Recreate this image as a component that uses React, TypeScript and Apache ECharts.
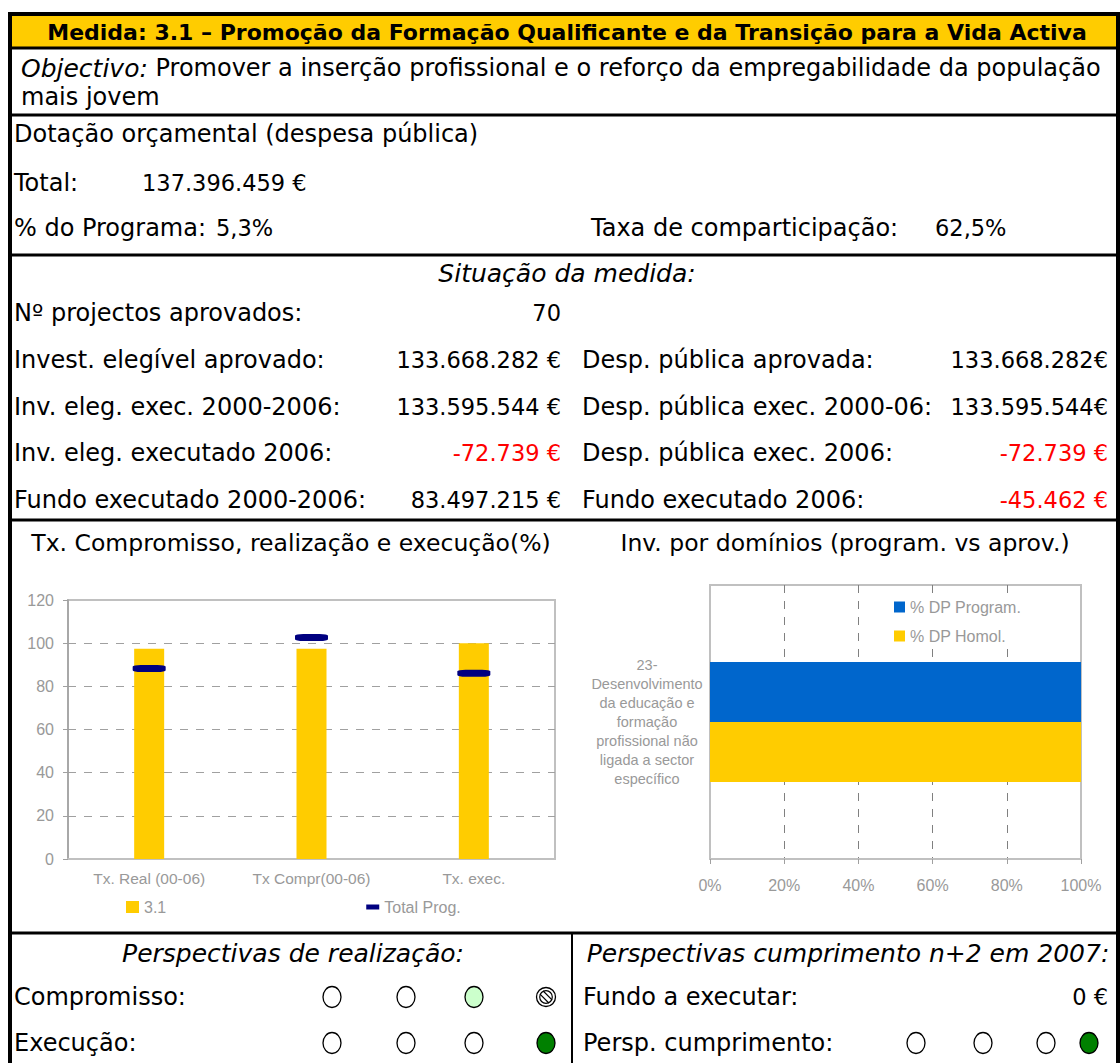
import React, { useEffect, useRef } from "react";
import * as echarts from "echarts";

// ---------- data ----------
const headerTitle = "Medida: 3.1 – Promoção da Formação Qualificante e da Transição para a Vida Activa";
const objectivoLabel = "Objectivo:";
const objectivoText1 = " Promover a inserção profissional e o reforço da empregabilidade da população";
const objectivoText2 = "mais jovem";

const dotacaoTitle = "Dotação orçamental (despesa pública)";
const totalLabel = "Total:";
const totalValue = "137.396.459 €";
const pctProgramaLabel = "% do Programa:";
const pctProgramaValue = "5,3%";
const taxaLabel = "Taxa de comparticipação:";
const taxaValue = "62,5%";

const situacaoTitle = "Situação da medida:";
const situacaoLeftLabels = [
  "Nº projectos aprovados:",
  "Invest. elegível aprovado:",
  "Inv. eleg. exec. 2000-2006:",
  "Inv. eleg. executado 2006:",
  "Fundo executado 2000-2006:",
];
const situacaoLeftValues = ["70", "133.668.282 €", "133.595.544 €", "-72.739 €", "83.497.215 €"];
const situacaoRightLabels = [
  "",
  "Desp. pública aprovada:",
  "Desp. pública exec. 2000-06:",
  "Desp. pública exec. 2006:",
  "Fundo executado 2006:",
];
const situacaoRightValues = ["", "133.668.282€", "133.595.544€", "-72.739 €", "-45.462 €"];

const chart1Title = "Tx. Compromisso, realização e execução(%)";
const chart2Title = "Inv. por domínios (program. vs aprov.)";

const txCategories = ["Tx. Real (00-06)", "Tx Compr(00-06)", "Tx. exec."];
const medidaSeriesName = "3.1";
const medidaValues = [97.4, 97.4, 100];
const totalProgSeriesName = "Total Prog.";
const totalProgValues = [88.3, 102.6, 86.1];

const dominioCategories = [
  "23-\nDesenvolvimento\nda educação e\nformação\nprofissional não\nligada a sector\nespecífico",
];
const dpProgramName = "% DP Program.";
const dpProgramValues = [100];
const dpHomolName = "% DP Homol.";
const dpHomolValues = [100];

const perspRealTitle = "Perspectivas de realização:";
const perspCumpTitle = "Perspectivas cumprimento n+2 em 2007:";
const compromissoLabel = "Compromisso:";
const execucaoLabel = "Execução:";
const fundoExecutarLabel = "Fundo a executar:";
const fundoExecutarValue = "0 €";
const perspCumpLabel = "Persp. cumprimento:";
const compromissoLights = ["empty", "empty", "light", "forbidden"];
const execucaoLights = ["empty", "empty", "empty", "green"];
const cumprimentoLights = ["empty", "empty", "empty", "green"];

// ---------- helpers ----------
const BODY = "Tahoma, 'DejaVu Sans', sans-serif";
const CHART_FONT = "Arial, 'Liberation Sans', sans-serif";
const FS = 24;
const NUM = 22.5;
const ITAL = 25;
const GREY = "#999999";

function txt(text: string, x: number, y: number, o: any = {}) {
  return {
    type: "text",
    x,
    y,
    silent: true,
    style: {
      text,
      fontFamily: BODY,
      fontSize: o.fontSize || FS,
      fontWeight: o.fontWeight || "normal",
      fontStyle: o.fontStyle || "normal",
      fill: o.fill || "#000",
      align: o.align || "left",
      verticalAlign: "middle",
      textAlign: o.align || "left",
      textVerticalAlign: "middle",
      rich: o.rich,
    },
  };
}

function hline(y: number, x1: number, x2: number, w = 3) {
  return { type: "line", silent: true, shape: { x1, y1: y, x2, y2: y }, style: { stroke: "#000", lineWidth: w } };
}
function vline(x: number, y1: number, y2: number, w = 3) {
  return { type: "line", silent: true, shape: { x1: x, y1, x2: x, y2 }, style: { stroke: "#000", lineWidth: w } };
}

function light(kind: string, cx: number, cy: number) {
  const els: any[] = [];
  const rx = 9;
  const ry = 10.5;
  if (kind === "forbidden") {
    els.push({ type: "ellipse", silent: true, shape: { cx, cy, rx: 9.5, ry: 9.5 }, style: { fill: "#fff", stroke: "#000", lineWidth: 1.3 } });
    els.push({ type: "ellipse", silent: true, shape: { cx, cy, rx: 6.3, ry: 6.3 }, style: { fill: "#fff", stroke: "#000", lineWidth: 1.2 } });
    const d = 4.4;
    const o = 1.6;
    els.push({ type: "line", silent: true, shape: { x1: cx - d + o, y1: cy - d - o, x2: cx + d + o, y2: cy + d - o }, style: { stroke: "#000", lineWidth: 1.2 } });
    els.push({ type: "line", silent: true, shape: { x1: cx - d - o, y1: cy - d + o, x2: cx + d - o, y2: cy + d + o }, style: { stroke: "#000", lineWidth: 1.2 } });
    return els;
  }
  const fill = kind === "light" ? "#CCFFCC" : kind === "green" ? "#008000" : "#ffffff";
  els.push({ type: "ellipse", silent: true, shape: { cx, cy, rx, ry }, style: { fill, stroke: "#000", lineWidth: 1.3 } });
  return els;
}

export default function App() {
  const ref = useRef<HTMLDivElement>(null);

  useEffect(() => {
    document.body.style.margin = "0";
    const chart = echarts.init(ref.current!, null, { renderer: "svg" });

    const L = 14; // left text x
    const graphics: any[] = [];

    // header
    graphics.push({ type: "rect", silent: true, shape: { x: 12, y: 16, width: 1104, height: 31 }, style: { fill: "#FFCC00" } });
    graphics.push(txt(headerTitle, 567, 32, { fontWeight: "bold", fontSize: 22, align: "center" }));

    // objectivo
    graphics.push(
      txt(`{i|${objectivoLabel}}${objectivoText1}`, 21, 68, {
        rich: { i: { fontStyle: "italic", fontFamily: BODY, fontSize: ITAL, fill: "#000" } },
      })
    );
    graphics.push(txt(objectivoText2, 21, 97));

    // dotação
    graphics.push(txt(dotacaoTitle, L, 134));
    graphics.push(txt(totalLabel, L, 183));
    graphics.push(txt(totalValue, 142, 183, { fontSize: NUM }));
    graphics.push(txt(pctProgramaLabel, L, 228));
    graphics.push(txt(pctProgramaValue, 216, 228, { fontSize: NUM }));
    graphics.push(txt(taxaLabel, 591, 228));
    graphics.push(txt(taxaValue, 935, 228, { fontSize: NUM }));

    // situação
    graphics.push(txt(situacaoTitle, 567, 273, { fontStyle: "italic", fontSize: ITAL, align: "center" }));
    situacaoLeftLabels.forEach((lab, i) => {
      const y = 313 + i * 46.8;
      graphics.push(txt(lab, L, y));
      const lv = situacaoLeftValues[i];
      graphics.push(txt(lv, 561, y, { align: "right", fontSize: NUM, fill: lv.startsWith("-") ? "#FF0000" : "#000" }));
      if (situacaoRightLabels[i]) graphics.push(txt(situacaoRightLabels[i], 582, y));
      const rv = situacaoRightValues[i];
      if (rv) graphics.push(txt(rv, 1108, y, { align: "right", fontSize: NUM, fill: rv.startsWith("-") ? "#FF0000" : "#000" }));
    });

    // chart titles
    graphics.push(txt(chart1Title, 291, 543, { align: "center", fontSize: 23.5 }));
    graphics.push(txt(chart2Title, 845, 543, { align: "center", fontSize: 23.5 }));

    // perspectivas
    graphics.push(txt(perspRealTitle, 293, 953, { align: "center", fontStyle: "italic", fontSize: ITAL }));
    graphics.push(txt(perspCumpTitle, 848, 953, { align: "center", fontStyle: "italic", fontSize: ITAL }));
    graphics.push(txt(compromissoLabel, L, 997));
    graphics.push(txt(execucaoLabel, L, 1043));
    graphics.push(txt(fundoExecutarLabel, 583, 997));
    graphics.push(txt(fundoExecutarValue, 1108, 997, { align: "right", fontSize: NUM }));
    graphics.push(txt(perspCumpLabel, 583, 1043));

    const leftXs = [332, 406, 474, 546];
    const rightXs = [916, 983, 1046, 1089];
    compromissoLights.forEach((k, i) => graphics.push(...light(k, leftXs[i], 997)));
    execucaoLights.forEach((k, i) => graphics.push(...light(k, leftXs[i], 1043)));
    cumprimentoLights.forEach((k, i) => graphics.push(...light(k, rightXs[i], 1043)));

    // table lines
    graphics.push(hline(48, 12, 1116, 3));
    graphics.push(hline(115, 12, 1116, 3));
    graphics.push(hline(255, 12, 1116, 3));
    graphics.push(hline(520, 12, 1116, 3));
    graphics.push(hline(933, 12, 1116, 3));
    graphics.push(vline(572, 933, 1070, 2));
    // outer border
    graphics.push({ type: "rect", silent: true, shape: { x: 10, y: 14, width: 1108, height: 1100 }, style: { fill: "none", stroke: "#000", lineWidth: 4 } });

    const option: any = {
      animation: false,
      backgroundColor: "#ffffff",
      textStyle: { fontFamily: CHART_FONT },
      grid: [
        { left: 68, top: 600, right: 1120 - 555, bottom: 1063 - 859, show: true, borderColor: "#c0c0c0", borderWidth: 2, backgroundColor: "transparent" },
        { left: 710, top: 585, right: 1120 - 1081, bottom: 1063 - 859, show: true, borderColor: "#c0c0c0", borderWidth: 2, backgroundColor: "transparent" },
      ],
      legend: [
        {
          left: 121,
          top: 894,
          itemGap: 200,
          itemWidth: 13,
          itemHeight: 12,
          textStyle: { color: GREY, fontSize: 16, fontFamily: CHART_FONT },
          data: [
            { name: medidaSeriesName, icon: "rect" },
            { name: totalProgSeriesName, icon: "path://M0,0H13V5H0Z" },
          ],
        },
        {
          orient: "vertical",
          left: 889,
          top: 594,
          padding: [5, 6, 5, 5],
          itemGap: 13,
          itemWidth: 11,
          itemHeight: 11,
          backgroundColor: "#ffffff",
          textStyle: { color: GREY, fontSize: 16, fontFamily: CHART_FONT },
          data: [
            { name: dpProgramName, icon: "rect" },
            { name: dpHomolName, icon: "rect" },
          ],
        },
      ],
      xAxis: [
        {
          gridIndex: 0,
          type: "category",
          data: txCategories,
          axisLine: { lineStyle: { color: "#c0c0c0", width: 2 } },
          axisTick: { show: false },
          axisLabel: { color: GREY, fontSize: 15.5, margin: 11, fontFamily: CHART_FONT },
        },
        {
          gridIndex: 1,
          type: "value",
          min: 0,
          max: 100,
          interval: 20,
          axisLine: { show: true, lineStyle: { color: "#c0c0c0", width: 2 } },
          axisTick: { show: true, length: 5, lineStyle: { color: "#a0a0a0" } },
          axisLabel: { color: GREY, fontSize: 16, margin: 18, formatter: "{value}%", fontFamily: CHART_FONT },
          splitLine: { show: true, showMinLine: false, showMaxLine: false, lineStyle: { color: "#808080", type: [8, 8], width: 1 } },
        },
      ],
      yAxis: [
        {
          gridIndex: 0,
          type: "value",
          min: 0,
          max: 120,
          interval: 20,
          axisLine: { show: true, lineStyle: { color: "#a0a0a0", width: 1.5 } },
          axisTick: { show: true, length: 5, lineStyle: { color: "#a0a0a0" } },
          axisLabel: { color: GREY, fontSize: 16, margin: 14, fontFamily: CHART_FONT },
          splitLine: { show: true, showMinLine: false, showMaxLine: false, lineStyle: { color: "#a0a0a0", type: [8, 8], width: 1 } },
        },
        {
          gridIndex: 1,
          type: "category",
          data: dominioCategories,
          axisLine: { show: true, lineStyle: { color: "#c0c0c0", width: 2 } },
          axisTick: { show: false },
          axisLabel: { color: GREY, fontSize: 14.5, lineHeight: 19, align: "center", margin: 63, fontFamily: CHART_FONT },
        },
      ],
      series: [
        {
          name: medidaSeriesName,
          type: "bar",
          xAxisIndex: 0,
          yAxisIndex: 0,
          data: medidaValues,
          barWidth: 30,
          itemStyle: { color: "#FFCC00" },
          z: 2,
        },
        {
          name: totalProgSeriesName,
          type: "scatter",
          xAxisIndex: 0,
          yAxisIndex: 0,
          data: totalProgValues,
          symbol: "roundRect",
          symbolSize: [33, 7],
          itemStyle: { color: "#000080", opacity: 1 },
          z: 3,
        },
        {
          name: dpProgramName,
          type: "bar",
          xAxisIndex: 1,
          yAxisIndex: 1,
          data: dpProgramValues,
          barWidth: 60,
          barGap: "0%",
          itemStyle: { color: "#0066CC" },
        },
        {
          name: dpHomolName,
          type: "bar",
          xAxisIndex: 1,
          yAxisIndex: 1,
          data: dpHomolValues,
          barWidth: 60,
          barGap: "0%",
          itemStyle: { color: "#FFCC00" },
        },
      ],
      graphic: { elements: graphics },
    };

    chart.setOption(option);
    return () => chart.dispose();
  }, []);

  return <div ref={ref} style={{ width: 1120, height: 1063 }} />;
}
